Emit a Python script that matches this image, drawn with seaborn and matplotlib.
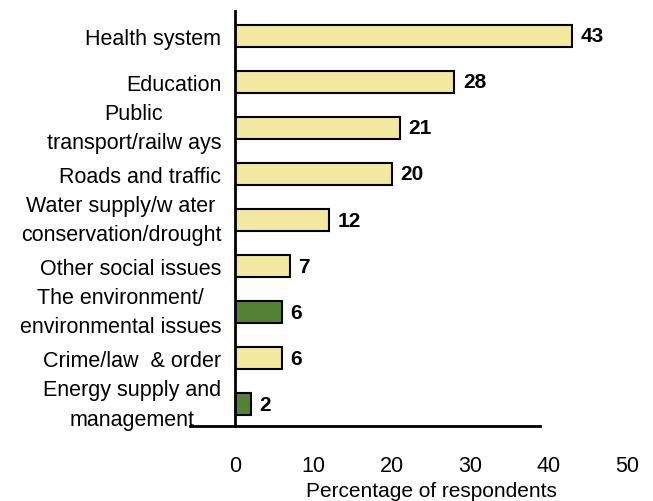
import matplotlib
matplotlib.use("Agg")
import matplotlib.pyplot as plt
import seaborn as sns
import pandas as pd

categories = [
    "Health system",
    "Education",
    "Public\ntransport/railw ays",
    "Roads and traffic",
    "Water supply/w ater\nconservation/drought",
    "Other social issues",
    "The environment/\nenvironmental issues",
    "Crime/law  & order",
    "Energy supply and\nmanagement",
]
values = [43, 28, 21, 20, 12, 7, 6, 6, 2]
groups = ["other", "other", "other", "other", "other", "other", "env", "other", "env"]
xticks = [0, 10, 20, 30, 40, 50]

YELLOW = "#F2E8A0"
GREEN = "#548235"
FS = 15.5

sns.set_theme(style="white")
plt.rcParams["font.family"] = ["Liberation Sans", "DejaVu Sans"]

df = pd.DataFrame({"issue": categories, "pct": values, "group": groups})

fig = plt.figure(figsize=(6.53, 5.02), dpi=100)
ax = fig.add_axes([0.36, 0.149, 0.60, 0.827])

sns.barplot(
    data=df, x="pct", y="issue", hue="group",
    palette={"other": YELLOW, "env": GREEN},
    dodge=False, legend=False, width=0.48,
    edgecolor="black", linewidth=1.5, saturation=1, ax=ax,
)

for cont in ax.containers:
    ax.bar_label(cont, fmt="%d", padding=6, fontsize=15, fontweight="bold", color="black")

ax.set_xlim(0, 50)
ax.set_ylim(8.48, -0.54)
ax.set_xticks(xticks)
ax.set_xticklabels([str(t) for t in xticks])
ax.set_xlabel("Percentage of respondents", fontsize=15, color="black", labelpad=3)
ax.set_ylabel("")

# two-line category names: centred text block on the bar
for lab in ax.get_yticklabels():
    if "\n" in lab.get_text():
        lab.set_multialignment("center")
        lab.set_linespacing(1.55)
        lab.set_verticalalignment("center")

ax.tick_params(axis="x", length=0, pad=21, labelsize=FS, colors="black")
ax.tick_params(axis="y", length=0, pad=10, labelsize=FS, colors="black")

for side in ["top", "right"]:
    ax.spines[side].set_visible(False)
ax.spines["left"].set_color("black")
ax.spines["left"].set_linewidth(2)
ax.spines["bottom"].set_color("black")
ax.spines["bottom"].set_linewidth(2)
ax.spines["bottom"].set_bounds(-5.7, 38.9)

fig.savefig("out.png", dpi=100)
